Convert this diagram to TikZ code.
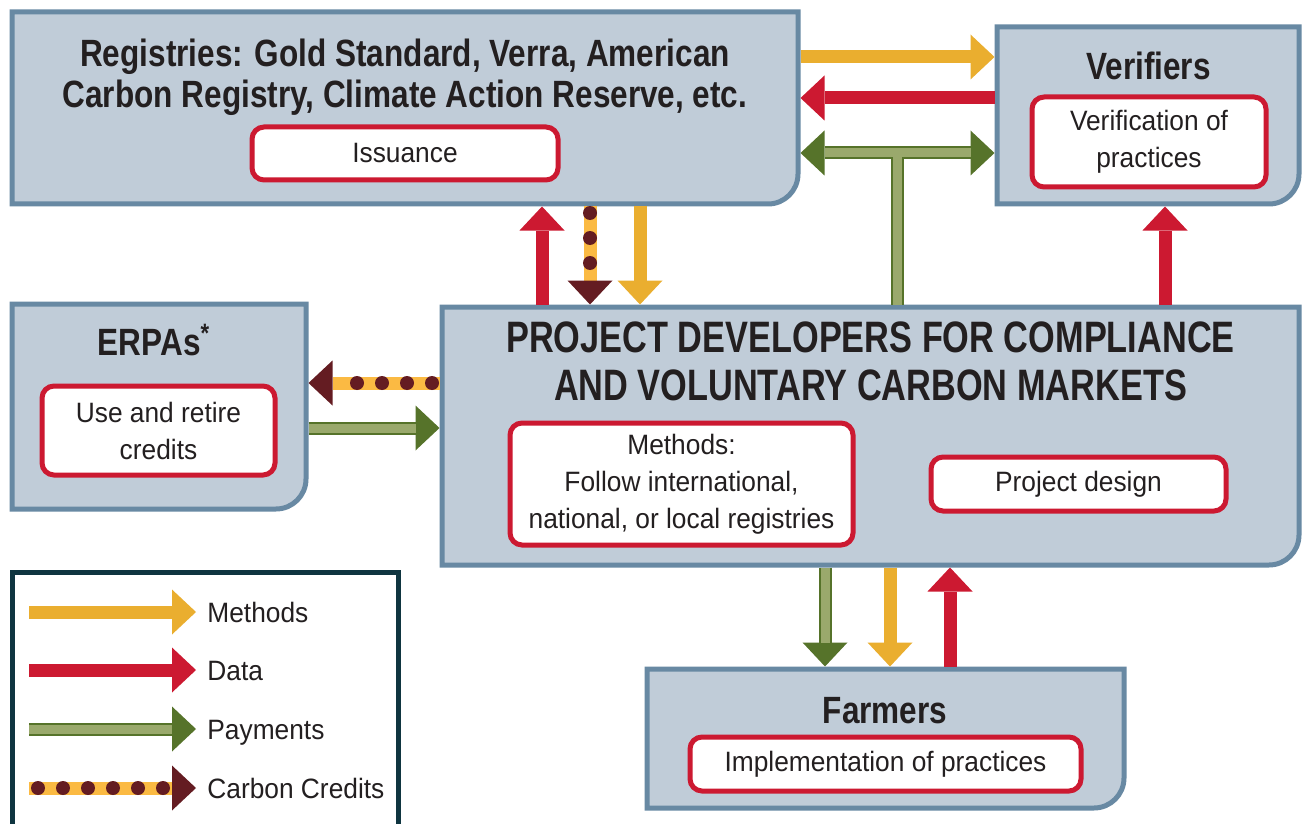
\documentclass[tikz,border=0pt]{standalone}
\usepackage{fontspec}
\setmainfont{Liberation Sans}[FakeStretch=0.94]
\newfontfamily\titlefont{Liberation Sans Bold}[FakeStretch=0.83]
\newfontfamily\bigfont{Liberation Sans Bold}[FakeStretch=0.78]
\usetikzlibrary{arrows.meta}

\definecolor{panelfill}{HTML}{C0CCD8}
\definecolor{panelline}{HTML}{6889A3}
\definecolor{datared}{HTML}{CC1931}
\definecolor{methodyellow}{HTML}{EAAE2F}
\definecolor{credityellow}{HTML}{FBBA43}
\definecolor{creditmaroon}{HTML}{641C22}
\definecolor{paydark}{HTML}{56732A}
\definecolor{paylight}{HTML}{9AA96C}
\definecolor{legendline}{HTML}{0F3540}
\definecolor{textgray}{HTML}{231F20}

\tikzset{
  panelnode/.style={rectangle, inner sep=0pt, outer sep=0pt},
  task/.style={draw=datared, line width=2.5pt, fill=white, rounded corners=6pt,
    align=center, inner sep=0pt},
  headline/.style={font=\titlefont\fontsize{19pt}{20.5pt}\selectfont, align=center, inner sep=0pt},
  keylabel/.style={anchor=base west, inner sep=0pt, text height=10pt, text depth=0pt},
  flow/.style={line width=6.5pt, shorten <=1.25pt, shorten >=1.25pt,
    -{Triangle[width=22.5pt,length=12pt,line width=0pt]}},
  method/.style={flow, draw=methodyellow},
  data/.style={flow, draw=datared},
  pay/.style={flow, draw=paydark,
    postaction={draw=paylight, line width=4.5pt, arrows=-, shorten >=13.25pt}},
  paytwo/.style={line width=6.5pt, shorten <=1.25pt, shorten >=1.25pt, draw=paydark,
    {Triangle[width=22.5pt,length=12pt,line width=0pt]}-{Triangle[width=22.5pt,length=12pt,line width=0pt]},
    postaction={draw=paylight, line width=4.5pt, arrows=-, shorten >=13.25pt, shorten <=13.25pt}},
  paystem/.style={draw=paydark, line width=6.5pt, shorten <=1.25pt,
    postaction={draw=paylight, line width=4.5pt}},
  credit/.style={flow, draw=credityellow,
    -{Triangle[width=22.5pt,length=12pt,line width=0pt,color=creditmaroon]},
    postaction={draw=creditmaroon, line width=7pt, line cap=round, arrows=-,
      dash pattern=on 0pt off 12.5pt, dash phase=#1, shorten >=13.75pt}},
}

\newcommand\drawpanel[1]{%
  \draw[panelline, line width=2.5pt, fill=panelfill] (#1.south west) -- (#1.north west)
    -- (#1.north east) -- ([yshift=15pt]#1.south east)
    arc[start angle=0, end angle=-90, radius=15pt] -- cycle;}

\begin{document}
\begin{tikzpicture}[x=0.5pt, y=-0.5pt, text=textgray,
  font=\fontsize{14pt}{18.5pt}\selectfont]

\fill[white] (0,0) rectangle (1302,824);
\useasboundingbox (0,0) rectangle (1302,824);

% panels
\node[panelnode, minimum width=393pt, minimum height=96pt] (reg) at (405,108) {};
\node[panelnode, minimum width=151pt, minimum height=88.5pt] (ver) at (1148,115.5) {};
\node[panelnode, minimum width=147pt, minimum height=102.5pt] (erpa) at (159,406.5) {};
\node[panelnode, minimum width=428.5pt, minimum height=129pt] (proj) at (870.5,436) {};
\node[panelnode, minimum width=238.5pt, minimum height=69.5pt] (farm) at (885.5,738.5) {};
\drawpanel{reg}
\drawpanel{ver}
\drawpanel{erpa}
\drawpanel{proj}
\drawpanel{farm}

% titles
\node[headline] (regtitle) at (405,77.5)
  {Registries: Gold Standard, Verra, American\\Carbon Registry, Climate Action Reserve, etc.};
\node[headline, anchor=base] (vertitle) at (1148.5,80) {Verifiers};
\node[headline, anchor=base] (erpatitle) at (154,355) {ERPAs\textsuperscript{*}};
\node[headline, anchor=base] (farmtitle) at (885,723) {Farmers};
\node[font=\bigfont\fontsize{22pt}{24pt}\selectfont, align=center, inner sep=0pt] (projtitle)
  at (870.5,361) {PROJECT DEVELOPERS FOR COMPLIANCE\\AND VOLUNTARY CARBON MARKETS};

% tasks
\node[task, minimum width=153pt, minimum height=26.5pt] (issue) at (405,153.5) {Issuance};
\node[task, minimum width=117pt, minimum height=45pt] (verify) at (1149,142)
  {Verification of\\practices};
\node[task, minimum width=116.5pt, minimum height=44.5pt] (retire) at (158.5,430.5)
  {Use and retire\\credits};
\node[task, minimum width=171.5pt, minimum height=61pt] (methods) at (681.5,484)
  {Methods:\\Follow international,\\national, or local registries};
\node[task, minimum width=147.5pt, minimum height=27pt] (design) at (1078.5,484) {Project design};
\node[task, minimum width=195.5pt, minimum height=27pt] (implement) at (885.5,764)
  {Implementation of practices};

% flows
\draw[method] (reg.east |- 0,57) -- (ver.west |- 0,57);
\draw[data] (ver.west |- 0,98) -- (reg.east |- 0,98);
\draw[paytwo] (reg.east |- 0,153) -- (ver.west |- 0,153);
\coordinate (tee) at (897,157);
\draw[paystem] (proj.north -| tee) -- (tee);
\draw[data] (proj.north -| 542,0) -- (reg.south -| 542,0);
\draw[credit=9.25pt] (reg.south -| 590,0) -- (proj.north -| 590,0);
\draw[method] (reg.south -| 640,0) -- (proj.north -| 640,0);
\draw[data] (proj.north -| 1165,0) -- (ver.south -| 1165,0);
\draw[credit=8.75pt] (proj.west |- 0,383) -- (erpa.east |- 0,383);
\draw[pay] (erpa.east |- 0,428) -- (proj.west |- 0,428);
\draw[pay] (proj.south -| 825,0) -- (farm.north -| 825,0);
\draw[method] (proj.south -| 890,0) -- (farm.north -| 890,0);
\draw[data] (farm.north -| 950,0) -- (proj.south -| 950,0);

% legend
\draw[legendline, line width=2.5pt] (12,572) rectangle (398,840);
\node[keylabel] (keymethods) at (207,622) {Methods};
\node[keylabel] (keydata) at (207,680) {Data};
\node[keylabel] (keypay) at (207,739) {Payments};
\node[keylabel] (keycredit) at (207,798) {Carbon Credits};
\draw[method] ([xshift=-90.25pt]keymethods.west) -- ([xshift=-4.25pt]keymethods.west);
\draw[data] ([xshift=-90.25pt]keydata.west) -- ([xshift=-4.25pt]keydata.west);
\draw[pay] ([xshift=-90.25pt]keypay.west) -- ([xshift=-4.25pt]keypay.west);
\draw[credit=8pt] ([xshift=-90.25pt]keycredit.west) -- ([xshift=-4.25pt]keycredit.west);

\end{tikzpicture}
\end{document}
